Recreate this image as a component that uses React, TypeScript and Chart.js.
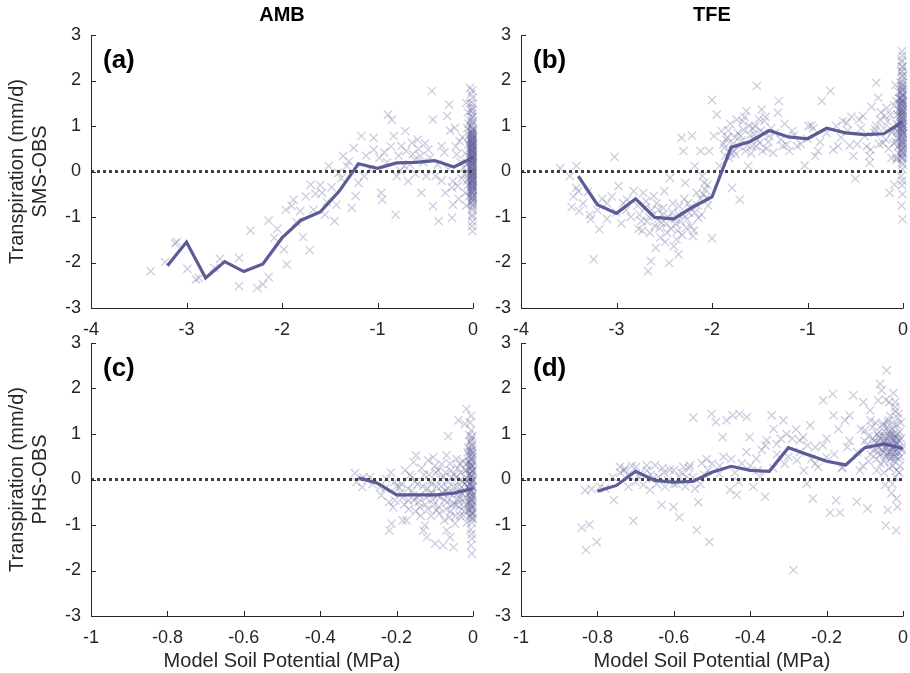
import { useEffect, useRef } from "react";
import { Chart, registerables } from "chart.js";

Chart.register(...registerables);

const FONT = '"Liberation Sans", Arial, Helvetica, sans-serif';
const INK = "#262626";
const MEAN_COLOR = "#5b5b98";
const CROSS_COLOR = "rgba(92, 92, 153, 0.3)";
const ZERO_COLOR = "#404040";

// ---- Binned means (soil potential bins, MPa) ----
const ambSmsBinX = [-3.2, -3.0, -2.8, -2.6, -2.4, -2.2, -2.0, -1.8, -1.6, -1.4, -1.2, -1.0, -0.8, -0.6, -0.4, -0.2, 0];
const ambSmsBinY = [-2.07, -1.55, -2.34, -1.98, -2.2, -2.03, -1.46, -1.07, -0.89, -0.43, 0.17, 0.07, 0.19, 0.2, 0.24, 0.1, 0.31];

const tfeSmsBinX = [-3.4, -3.2, -3.0, -2.8, -2.6, -2.4, -2.2, -2.0, -1.8, -1.6, -1.4, -1.2, -1.0, -0.8, -0.6, -0.4, -0.2, 0];
const tfeSmsBinY = [-0.1, -0.73, -0.92, -0.6, -1.01, -1.04, -0.78, -0.56, 0.53, 0.66, 0.9, 0.76, 0.72, 0.95, 0.85, 0.81, 0.83, 1.1];

const ambPhsBinX = [-0.3, -0.25, -0.2, -0.15, -0.1, -0.05, 0];
const ambPhsBinY = [0.04, -0.08, -0.34, -0.34, -0.34, -0.3, -0.2];

const tfePhsBinX = [-0.8, -0.75, -0.7, -0.65, -0.6, -0.55, -0.5, -0.45, -0.4, -0.35, -0.3, -0.25, -0.2, -0.15, -0.1, -0.05, 0];
const tfePhsBinY = [-0.26, -0.13, 0.18, -0.02, -0.06, -0.04, 0.16, 0.29, 0.2, 0.18, 0.7, 0.55, 0.4, 0.32, 0.7, 0.78, 0.68];

// ---- Daily observations: [soil potential, model - observed] ----
const ambSmsObs: number[][] = [
  [-3.375, -2.19], [-3.225, -1.99], [-3.12, -1.58], [-3.1, -1.55], [-2.99, -2.14], [-2.9, -2.37], [-2.87, -2.34],
  [-2.65, -1.92], [-2.71, -2.12], [-2.45, -1.9], [-2.45, -2.52], [-2.33, -1.3], [-2.26, -2.56], [-2.2, -2.48],
  [-2.14, -2.32], [-2.14, -1.08], [-2.08, -1.46], [-2.05, -1.26], [-1.95, -2.04], [-1.96, -0.84], [-1.98, -1.71],
  [-1.88, -0.62], [-1.85, -1.11], [-1.81, -0.87], [-1.78, -1.44], [-1.71, -1.73], [-1.7, -0.29], [-1.67, -0.84],
  [-1.65, -0.49], [-1.58, -0.47], [-1.53, -0.67], [-1.51, 0.12], [-1.45, -1.09], [-1.43, -0.73], [-1.41, -0.03],
  [-1.36, 0.34], [-1.32, 0.12], [-1.27, -0.8], [-1.25, 0.52], [-1.23, -0.54], [-1.17, 0.78], [-1.14, -0.1],
  [-1.04, 0.48], [-1.04, 0.74], [-0.96, -0.47], [-0.95, -0.62], [-0.89, 1.25], [-0.83, 0.78], [-0.85, 1.14],
  [-0.81, -0.95], [-0.8, -0.1], [-0.75, 0.56], [-0.71, 0.89], [-0.72, 0.12], [-0.68, -0.21], [-0.64, 0.63],
  [-0.61, 0.26], [-0.58, 0.7], [-0.55, 0.34], [-0.54, -0.47], [-0.49, -0.1], [-0.47, 0.48], [-0.43, 1.77],
  [-0.42, 1.14], [-0.42, -0.76], [-0.39, -0.1], [-0.36, -1.09], [-0.33, 0.56], [-0.29, -0.47], [-0.27, 1.22],
  [-0.25, 1.47], [-0.22, -1.02], [-0.21, -0.21], [-0.21, -0.73], [-0.19, 0.96], [-0.17, 0.37], [-0.16, -0.32],
  [-0.14, 0.67], [-0.1, 0.08], [-0.08, -0.47], [-0.07, 1.51],
  [-1.9, -0.75], [-1.75, -0.55], [-1.6, -0.3], [-1.55, -0.95], [-1.48, -0.35], [-1.38, -0.15], [-1.3, 0.22],
  [-1.2, -0.25], [-1.12, 0.35], [-1.08, 0.05],
  [-0.98, 0.3], [-0.93, 0.42], [-0.9, 0.2], [-0.86, 0.55], [-0.78, 0.35], [-0.76, 0.02], [-0.7, 0.45],
  [-0.66, 0.15], [-0.63, 0.38], [-0.6, -0.05], [-0.57, 0.5], [-0.52, 0.2], [-0.5, 0.62], [-0.45, 0.3],
  [-0.37, 0.15], [-0.33, -0.2], [-0.3, 0.42], [-0.26, 0.05], [-0.24, 0.9], [-0.22, -0.35], [-0.18, 0.55],
  [-0.15, -0.6], [-0.13, 0.2], [-0.12, -0.15], [-0.11, 0.75], [-0.09, -0.05], [-0.08, 0.4], [-0.07, -0.75],
  [-0.06, 0.95], [-0.05, -0.3],
  [-0.03, 1.84], [-0.01, 1.78], [-0.02, 1.7], [-0.005, 1.62], [-0.03, 1.5], [-0.01, 1.41], [-0.02, 1.33],
  [-0.005, 1.27], [-0.015, 1.18], [-0.03, 1.12], [-0.01, 1.06], [-0.02, 0.99], [-0.005, 0.93], [-0.025, 0.88],
  [-0.01, 0.84], [-0.015, 0.79], [-0.005, 0.73], [-0.03, 0.69], [-0.02, 0.64], [-0.01, 0.6], [-0.005, 0.56],
  [-0.025, 0.51], [-0.015, 0.47], [-0.005, 0.43], [-0.02, 0.39], [-0.01, 0.35], [-0.03, 0.31], [-0.005, 0.27],
  [-0.015, 0.23], [-0.02, 0.19], [-0.01, 0.15], [-0.005, 0.11], [-0.025, 0.07], [-0.015, 0.03], [-0.005, -0.01],
  [-0.02, -0.05], [-0.01, -0.09], [-0.03, -0.13], [-0.005, -0.17], [-0.015, -0.22], [-0.02, -0.27], [-0.01, -0.32],
  [-0.005, -0.37], [-0.025, -0.42], [-0.015, -0.47], [-0.005, -0.53], [-0.01, -0.6], [-0.02, -0.68], [-0.005, -0.8],
  [-0.01, -0.95], [-0.005, -1.1], [-0.01, -1.2], [-0.005, -1.31],
  [-0.008, 0.5], [-0.012, 0.2], [-0.004, -0.2], [-0.018, 0.0], [-0.006, 0.8], [-0.014, -0.4], [-0.002, 0.05],
  [-0.002, 0.62], [-0.002, -0.55], [-0.003, 0.3], [-0.007, -0.05], [-0.011, 0.45],
  [-0.004, 0.92], [-0.009, 0.87], [-0.013, 0.83], [-0.003, 0.77], [-0.007, 0.71], [-0.011, 0.67], [-0.002, 0.63],
  [-0.016, 0.58], [-0.006, 0.54], [-0.01, 0.49], [-0.003, 0.44], [-0.008, 0.41], [-0.012, 0.37], [-0.002, 0.33],
  [-0.006, 0.29], [-0.015, 0.25], [-0.004, 0.21], [-0.009, 0.17], [-0.002, 0.13], [-0.013, 0.09], [-0.005, 0.05],
  [-0.008, 0.01], [-0.003, -0.03], [-0.011, -0.07], [-0.006, -0.11], [-0.002, -0.15], [-0.009, -0.19],
  [-0.004, -0.24], [-0.012, -0.29], [-0.007, -0.34], [-0.003, -0.39], [-0.01, -0.44], [-0.005, -0.49],
  [-0.008, -0.57], [-0.003, -0.64], [-0.006, -0.72], [-0.018, 0.72], [-0.022, 0.45], [-0.024, 0.12],
  [-0.026, -0.2], [-0.028, 0.56], [-0.035, 0.25], [-0.04, -0.05], [-0.038, 0.8], [-0.045, 1.05], [-0.042, -0.55],
  [-0.05, 0.6], [-0.055, 1.3], [-0.06, -0.2], [-0.065, 0.15], [-0.003, 1.1], [-0.007, 1.35], [-0.002, 1.5],
  [-0.012, 1.0], [-0.004, -0.85], [-0.009, -1.0],
  [-0.001, 0.9], [-0.006, 0.82], [-0.001, 0.75], [-0.009, 0.68], [-0.004, 0.59], [-0.001, 0.52], [-0.007, 0.46],
  [-0.002, 0.39], [-0.01, 0.32], [-0.005, 0.24], [-0.001, 0.18], [-0.008, 0.1], [-0.003, 0.03], [-0.001, -0.06],
  [-0.006, -0.13], [-0.002, -0.21], [-0.009, -0.27], [-0.004, -0.33], [-0.001, -0.41], [-0.007, -0.47],
  [-0.002, -0.58], [-0.005, -0.66], [-0.001, 0.35], [-0.004, 0.68], [-0.001, -0.3], [-0.012, 0.6], [-0.013, -0.1],
  [-0.016, 0.3], [-0.002, 1.2], [-0.001, -0.75],
];

const tfeSmsObs: number[][] = [
  [-3.59, 0.07], [-3.49, -0.1], [-3.42, 0.12], [-3.42, -0.36], [-3.4, -0.43], [-3.47, -0.78], [-3.39, -0.87],
  [-3.28, -0.95], [-3.27, -1.05], [-3.24, -1.93], [-3.18, -1.27], [-3.1, -1.04], [-3.02, 0.32], [-2.98, -0.32],
  [-2.95, -1.14], [-2.89, -0.62], [-2.82, -0.43], [-2.77, -1.26], [-2.74, -1.09], [-2.72, -0.47], [-2.67, -2.19],
  [-2.65, -1.35], [-2.64, -1.97], [-2.61, -0.54], [-2.59, -1.68], [-2.56, -0.84], [-2.53, -1.13], [-2.5, -0.43],
  [-2.47, -1.35], [-2.45, -2.01], [-2.44, -0.14], [-2.4, -1.64], [-2.39, -1.05], [-2.37, -1.49], [-2.35, -1.82],
  [-2.34, -0.76], [-2.32, 0.74], [-2.3, 0.45], [-2.28, -0.25], [-2.27, -1.24], [-2.24, -0.91], [-2.21, 0.79],
  [-2.2, -1.42], [-2.18, 0.12], [-2.16, -0.47], [-2.14, -1.02], [-2.12, 0.45], [-2.1, -0.1], [-2.07, -0.4],
  [-2.06, -0.58], [-2.03, 0.45], [-2.0, 1.57], [-2.0, -1.47], [-1.98, 0.78], [-1.95, 1.25], [-1.92, 0.12],
  [-1.9, 0.89], [-1.87, 0.52], [-1.85, 0.7], [-1.82, 0.3], [-1.79, -0.36], [-1.77, 0.45], [-1.74, 1.14],
  [-1.71, -0.62], [-1.7, 0.78], [-1.67, 0.92], [-1.64, 1.33], [-1.62, 0.12], [-1.58, 0.56], [-1.55, 1.0],
  [-1.53, 1.88], [-1.5, 0.63], [-1.48, 1.36], [-1.45, 1.11], [-1.4, 0.78], [-1.36, 0.41], [-1.31, 1.29],
  [-1.3, 1.55], [-1.26, 0.56], [-1.22, 0.59], [-1.16, 0.89], [-1.11, 0.56], [-1.03, 0.13], [-0.99, 1.0],
  [-0.96, 1.01], [-0.92, 0.34], [-0.89, 0.45], [-0.85, 1.55], [-0.76, 1.77], [-0.73, 0.48], [-0.68, 0.56],
  [-0.63, 1.11], [-0.59, 1.07], [-0.56, 0.57], [-0.52, 0.34], [-0.5, -0.16], [-0.46, 1.14], [-0.42, 1.22],
  [-0.4, 0.78], [-0.35, 0.34], [-0.35, 0.19], [-0.34, 0.48], [-0.33, 1.42], [-0.29, 0.92], [-0.28, 1.95],
  [-0.26, 1.62], [-0.24, 1.14], [-0.21, 0.63], [-0.19, 1.22], [-0.17, 1.4], [-0.14, -0.47], [-0.12, 0.85],
  [-0.09, -0.29], [-0.07, 0.26],
  [-3.3, -0.45], [-3.1, -0.7], [-3.05, -0.55], [-2.9, -0.85], [-2.85, -1.0], [-2.7, -0.8], [-2.68, -1.1],
  [-2.55, -1.25], [-2.52, -0.95], [-2.48, -1.15], [-2.42, -0.9], [-2.36, -1.3], [-2.33, -1.1], [-2.3, -0.95],
  [-2.25, -0.7], [-2.22, -1.2], [-2.18, -0.9], [-2.12, -0.6], [-2.08, -0.25], [-2.04, -0.75],
  [-2.78, -0.75], [-2.76, -0.95], [-2.73, -1.3], [-2.69, -0.65], [-2.66, -1.0], [-2.63, -0.85], [-2.6, -1.2],
  [-2.58, -0.7], [-2.57, -1.05], [-2.54, -1.45], [-2.51, -0.8], [-2.49, -1.55], [-2.46, -1.0], [-2.43, -1.25],
  [-2.41, -0.7], [-2.38, -1.15], [-2.35, -0.95], [-2.31, -1.4], [-2.29, -0.6], [-2.26, -1.05], [-2.23, -0.8],
  [-2.19, -1.3], [-2.15, -0.75], [-2.11, -0.95], [-2.09, -0.5], [-2.05, -0.3], [-3.45, -0.55], [-3.35, -0.7],
  [-3.2, -0.85], [-3.15, -0.6], [-3.0, -0.9], [-2.93, -0.7],
  [-1.88, 0.6], [-1.83, 0.9], [-1.8, 0.4], [-1.76, 0.75], [-1.72, 0.55], [-1.68, 1.1], [-1.65, 0.45],
  [-1.6, 0.8], [-1.57, 0.95], [-1.52, 0.7], [-1.46, 0.85], [-1.43, 0.5], [-1.38, 0.95],
  [-1.86, 0.35], [-1.84, 0.75], [-1.81, 1.05], [-1.78, 0.62], [-1.75, 0.38], [-1.73, 0.85], [-1.69, 0.68],
  [-1.66, 1.2], [-1.63, 0.58], [-1.61, 1.0], [-1.59, 0.4], [-1.56, 0.82], [-1.54, 0.55], [-1.51, 1.15],
  [-1.49, 0.9], [-1.47, 0.45], [-1.44, 1.2], [-1.41, 0.65], [-1.34, 0.85], [-1.28, 0.7], [-1.24, 1.05],
  [-1.19, 0.45], [-1.14, 0.8], [-1.07, 0.6], [-1.0, 0.72], [-0.94, 0.95], [-0.87, 0.65], [-0.8, 0.85],
  [-0.7, 1.0], [-0.65, 0.75], [-0.58, 0.9], [-0.54, 1.2], [-0.48, 0.6], [-0.44, 0.95], [-0.38, 0.55],
  [-0.3, 0.85], [-0.28, 1.0], [-0.25, 0.6], [-0.23, 1.3], [-0.2, 0.95], [-0.18, 0.7], [-0.16, 1.1],
  [-0.15, 0.5], [-0.13, 1.25], [-0.12, 0.3], [-0.11, 0.9], [-0.1, 0.62], [-0.09, 1.45], [-0.08, 1.9],
  [-0.07, 1.05], [-0.06, 0.75], [-0.05, 1.35], [-0.045, 0.4], [-0.04, 1.6], [-0.035, 0.95],
  [-0.01, 2.64], [-0.005, 2.55], [-0.015, 2.4], [-0.005, 2.3], [-0.02, 2.2], [-0.01, 2.1], [-0.005, 2.02],
  [-0.025, 1.95], [-0.015, 1.88], [-0.005, 1.8], [-0.02, 1.73], [-0.01, 1.66], [-0.03, 1.6], [-0.005, 1.54],
  [-0.015, 1.48], [-0.025, 1.42], [-0.01, 1.36], [-0.005, 1.3], [-0.02, 1.24], [-0.01, 1.18], [-0.03, 1.12],
  [-0.005, 1.06], [-0.015, 1.0], [-0.02, 0.94], [-0.01, 0.88], [-0.005, 0.82], [-0.025, 0.76], [-0.015, 0.7],
  [-0.005, 0.63], [-0.01, 0.55], [-0.02, 0.47], [-0.005, 0.4], [-0.015, 0.32], [-0.01, 0.2], [-0.005, 0.05],
  [-0.02, -0.1], [-0.01, -0.3], [-0.005, -0.5], [-0.015, -0.75], [-0.005, -1.05],
  [-0.003, 1.95], [-0.008, 1.85], [-0.012, 1.76], [-0.004, 1.7], [-0.018, 1.62], [-0.006, 1.57], [-0.01, 1.5],
  [-0.002, 1.45], [-0.014, 1.39], [-0.007, 1.33], [-0.003, 1.27], [-0.011, 1.21], [-0.005, 1.15], [-0.016, 1.09],
  [-0.008, 1.03], [-0.002, 0.97], [-0.012, 0.91], [-0.006, 0.85], [-0.01, 0.79], [-0.003, 0.73], [-0.015, 0.67],
  [-0.007, 0.6], [-0.002, 0.52], [-0.012, 0.45], [-0.005, 0.36], [-0.009, 0.28], [-0.022, 1.35], [-0.025, 1.05],
  [-0.028, 0.6], [-0.032, 1.5], [-0.036, 1.2], [-0.04, 0.85], [-0.044, 1.75], [-0.048, 1.0], [-0.052, 0.55],
  [-0.056, 1.25], [-0.06, 0.9], [-0.065, 0.3], [-0.07, 1.55], [-0.075, 0.65], [-0.005, 2.2], [-0.012, 2.45],
  [-0.008, -0.2], [-0.003, 0.15],
  [-0.001, 1.9], [-0.006, 1.8], [-0.002, 1.68], [-0.009, 1.6], [-0.001, 1.52], [-0.005, 1.43], [-0.002, 1.35],
  [-0.008, 1.26], [-0.001, 1.2], [-0.004, 1.12], [-0.011, 1.04], [-0.002, 0.98], [-0.006, 0.9], [-0.001, 0.84],
  [-0.009, 0.76], [-0.003, 0.68], [-0.001, 0.6], [-0.006, 0.5], [-0.002, 0.42], [-0.004, 0.3], [-0.001, 2.1],
  [-0.007, 2.3], [-0.013, 1.55], [-0.017, 0.95], [-0.019, 1.3],
];

const ambPhsObs: number[][] = [
  [-0.309, 0.14], [-0.305, -0.06], [-0.29, -0.17], [-0.287, 0.05], [-0.277, -0.01], [-0.27, 0.05], [-0.263, -0.1],
  [-0.243, -0.17], [-0.226, 0.01], [-0.219, -1.12], [-0.213, -0.97], [-0.209, -0.61], [-0.204, -0.46],
  [-0.193, -0.17], [-0.187, -0.1], [-0.184, -0.9], [-0.174, -0.9], [-0.169, -0.46], [-0.16, 0.05], [-0.156, 0.38],
  [-0.149, 0.53], [-0.147, -0.39], [-0.139, -0.61], [-0.13, -1.12], [-0.126, -1.01], [-0.121, -1.27],
  [-0.117, 0.42], [-0.114, -0.32], [-0.108, -0.1], [-0.104, 0.49], [-0.099, -1.41], [-0.095, -0.68],
  [-0.091, 0.2], [-0.086, -0.39], [-0.082, 0.34], [-0.078, -1.45], [-0.073, -0.24], [-0.069, -1.12],
  [-0.069, 0.53], [-0.065, 0.95], [-0.062, -0.83], [-0.06, -1.27], [-0.056, 0.05], [-0.051, -1.49],
  [-0.05, -0.53], [-0.047, -0.97], [-0.043, 0.45], [-0.038, 1.3], [-0.036, -0.39], [-0.034, 0.34],
  [-0.03, -0.17], [-0.025, -0.79], [-0.021, 1.22], [-0.017, 1.55], [-0.017, 0.2],
  [-0.24, -0.35], [-0.23, -0.2], [-0.22, -0.5], [-0.215, 0.15], [-0.205, -0.05],
  [-0.19, -0.3], [-0.18, -0.55], [-0.17, -0.2], [-0.165, 0.1], [-0.155, -0.45], [-0.15, -0.7], [-0.145, -0.1],
  [-0.14, -0.35], [-0.135, 0.25], [-0.125, -0.55], [-0.12, -0.2], [-0.115, 0.1], [-0.11, -0.8], [-0.105, -0.45],
  [-0.1, 0.3], [-0.095, -0.15], [-0.09, -0.6], [-0.085, 0.0], [-0.08, -0.3], [-0.075, -0.9], [-0.072, 0.15],
  [-0.068, -0.5], [-0.065, -0.2], [-0.06, 0.35], [-0.058, -0.7], [-0.055, -0.35], [-0.05, 0.1], [-0.045, -0.55],
  [-0.042, -0.15], [-0.04, 0.25], [-0.037, -0.45], [-0.034, -0.8], [-0.032, 0.0], [-0.03, -0.3], [-0.027, 0.4],
  [-0.025, -0.6], [-0.022, -0.1], [-0.02, 0.2], [-0.018, -0.4], [-0.016, -0.95], [-0.014, 0.6],
  [-0.2, -0.15], [-0.185, -0.4], [-0.178, 0.2], [-0.168, -0.65], [-0.16, -0.25], [-0.152, -0.05], [-0.143, -0.5],
  [-0.137, -0.8], [-0.132, -0.15], [-0.128, 0.1], [-0.122, -0.4], [-0.118, -0.65], [-0.112, -0.05],
  [-0.107, -0.3], [-0.102, -0.55], [-0.097, 0.15], [-0.093, -0.35], [-0.088, -0.75], [-0.083, -0.15],
  [-0.078, 0.05], [-0.074, -0.45], [-0.07, -0.65], [-0.066, -0.05], [-0.062, -0.3], [-0.058, 0.2], [-0.054, -0.55],
  [-0.05, -0.15], [-0.046, -0.8], [-0.043, 0.05], [-0.039, -0.3], [-0.036, -0.6], [-0.033, 0.15], [-0.029, -0.45],
  [-0.026, -0.05], [-0.023, -0.7], [-0.02, -0.25], [-0.017, 0.35], [-0.015, -0.55], [-0.013, -0.15],
  [-0.005, 1.08], [-0.01, 0.98], [-0.004, 0.9], [-0.008, 0.82], [-0.003, 0.76], [-0.012, 0.7], [-0.006, 0.64],
  [-0.002, 0.58], [-0.009, 0.52], [-0.004, 0.46], [-0.011, 0.4], [-0.006, 0.34], [-0.002, 0.28], [-0.008, 0.22],
  [-0.004, 0.16], [-0.01, 0.1], [-0.006, 0.04], [-0.002, -0.02], [-0.009, -0.08], [-0.004, -0.14], [-0.011, -0.2],
  [-0.006, -0.26], [-0.002, -0.32], [-0.008, -0.38], [-0.004, -0.44], [-0.01, -0.5], [-0.006, -0.56],
  [-0.002, -0.62], [-0.009, -0.68], [-0.004, -0.75], [-0.007, -0.82], [-0.003, -0.95], [-0.006, -1.1],
  [-0.003, -1.3], [-0.005, -1.45], [-0.003, -1.63],
  [-0.003, 0.72], [-0.007, 0.61], [-0.002, 0.5], [-0.005, 0.43], [-0.009, 0.37], [-0.003, 0.31], [-0.006, 0.25],
  [-0.002, 0.19], [-0.008, 0.13], [-0.004, 0.07], [-0.011, 0.01], [-0.003, -0.05], [-0.007, -0.11],
  [-0.002, -0.17], [-0.005, -0.23], [-0.009, -0.29], [-0.003, -0.35], [-0.006, -0.41], [-0.002, -0.47],
  [-0.008, -0.53], [-0.004, -0.59], [-0.01, -0.65], [-0.003, -0.71], [-0.006, -0.78], [-0.002, -0.88],
  [-0.004, -1.2], [-0.008, 1.25], [-0.005, 1.4],
  [-0.001, 0.65], [-0.004, 0.55], [-0.001, 0.4], [-0.006, 0.3], [-0.001, 0.2], [-0.003, 0.1], [-0.001, 0.0],
  [-0.005, -0.08], [-0.001, -0.16], [-0.003, -0.26], [-0.001, -0.38], [-0.006, -0.46], [-0.001, -0.55],
  [-0.003, -0.65], [-0.001, -0.75], [-0.005, 0.85], [-0.001, -0.85], [-0.002, 0.95],
];

const tfePhsObs: number[][] = [
  [-0.841, -1.06], [-0.83, -1.55], [-0.821, -0.99], [-0.802, -1.37], [-0.832, -0.24], [-0.815, -0.21],
  [-0.793, -0.16], [-0.757, -0.45], [-0.741, 0.28], [-0.728, 0.24], [-0.719, -0.16], [-0.706, -0.91],
  [-0.699, 0.28], [-0.688, 0.13], [-0.68, -0.12], [-0.671, 0.31], [-0.662, -0.23], [-0.649, 0.31], [-0.64, 0.06],
  [-0.632, -0.56], [-0.623, -0.16], [-0.61, 0.21], [-0.601, -0.6], [-0.593, -0.09], [-0.586, -0.83],
  [-0.575, 0.28], [-0.566, 0.06], [-0.558, 0.31], [-0.549, 1.36], [-0.545, -0.2], [-0.54, -1.11], [-0.536, -0.5],
  [-0.527, 0.36], [-0.514, 0.45], [-0.507, -1.37], [-0.501, 1.44], [-0.49, 1.26], [-0.481, 0.13], [-0.472, 0.93],
  [-0.462, 1.3], [-0.453, -0.23], [-0.446, 1.41], [-0.435, -0.34], [-0.428, 1.44], [-0.422, 0.35], [-0.409, 1.37],
  [-0.402, 0.93], [-0.392, -0.16], [-0.384, 0.46], [-0.374, 0.06], [-0.361, -0.38], [-0.357, 0.86], [-0.344, 1.41],
  [-0.339, 1.11], [-0.331, 0.78], [-0.313, 1.3], [-0.305, 1.0], [-0.287, -1.99], [-0.278, 0.42], [-0.27, 0.86],
  [-0.261, 0.93], [-0.252, -0.09], [-0.243, 1.19], [-0.236, -0.42], [-0.23, 0.71], [-0.222, 0.27], [-0.209, 1.74],
  [-0.2, 0.49], [-0.191, -0.73], [-0.184, 1.88], [-0.182, 1.41], [-0.175, -0.46], [-0.169, 1.11], [-0.165, -0.73],
  [-0.158, 0.27], [-0.152, 1.3], [-0.146, 0.71], [-0.14, 1.41], [-0.13, 1.85], [-0.121, -0.49], [-0.113, 0.2],
  [-0.104, 1.7], [-0.099, 1.08], [-0.093, -0.64], [-0.086, 1.52], [-0.078, 0.64], [-0.069, 0.2], [-0.065, 1.74],
  [-0.06, 2.1], [-0.056, 1.96], [-0.051, 1.22], [-0.047, -0.12], [-0.045, -1.01], [-0.043, 2.4], [-0.04, -0.67],
  [-0.036, 1.7], [-0.034, 1.0], [-0.03, 0.49], [-0.021, 1.59], [-0.018, -1.12], [-0.017, -0.42], [-0.012, 1.44],
  [-0.78, -0.2], [-0.76, 0.05], [-0.73, 0.2], [-0.72, 0.1], [-0.7, -0.05], [-0.67, 0.2], [-0.655, 0.02],
  [-0.645, -0.1], [-0.625, 0.15], [-0.615, -0.02], [-0.6, 0.2], [-0.585, 0.05], [-0.57, -0.15], [-0.56, 0.25],
  [-0.74, 0.15], [-0.71, 0.3], [-0.69, 0.05], [-0.66, 0.1], [-0.63, 0.25], [-0.6, -0.1], [-0.58, 0.15],
  [-0.55, 0.05], [-0.53, -0.1], [-0.51, 0.2], [-0.48, 0.3], [-0.45, 0.45], [-0.43, -0.05], [-0.4, 0.3],
  [-0.37, 0.65], [-0.34, 0.25], [-0.32, 0.9], [-0.3, 0.5], [-0.28, 1.1], [-0.25, 0.75], [-0.23, 0.35],
  [-0.2, 0.9], [-0.18, 0.55], [-0.16, 0.25], [-0.14, 0.85],
  [-0.52, 0.1], [-0.5, 0.35], [-0.47, 0.5], [-0.44, 0.15], [-0.41, 0.6], [-0.38, 0.2], [-0.36, 0.75],
  [-0.33, 0.55], [-0.31, 0.35], [-0.29, 0.9], [-0.27, 0.6], [-0.26, 0.2], [-0.24, 0.45], [-0.21, 0.75],
  [-0.095, 0.75], [-0.09, 0.95], [-0.085, 0.55], [-0.08, 1.15], [-0.075, 0.85], [-0.07, 0.45], [-0.068, 1.0],
  [-0.065, 0.7], [-0.06, 0.9], [-0.058, 0.35], [-0.055, 1.2], [-0.052, 0.8], [-0.05, 0.6], [-0.048, 1.05],
  [-0.045, 0.5], [-0.043, 0.85], [-0.04, 0.7], [-0.038, 1.3], [-0.035, 0.95], [-0.033, 0.55], [-0.03, 0.8],
  [-0.028, 1.1], [-0.026, 0.65], [-0.024, 0.4], [-0.022, 0.9], [-0.02, 1.5], [-0.018, 0.75], [-0.016, 0.2],
  [-0.014, 1.0], [-0.012, 0.6], [-0.01, 0.85], [-0.008, 0.3], [-0.006, 1.25], [-0.004, 0.7], [-0.02, 0.05],
  [-0.03, -0.3], [-0.015, -0.6], [-0.045, 1.75], [-0.025, 1.9], [-0.05, 0.15],
  [-0.078, 0.9], [-0.072, 1.25], [-0.066, 0.6], [-0.062, 1.05], [-0.057, 0.75], [-0.053, 0.95], [-0.049, 0.4],
  [-0.046, 0.7], [-0.042, 1.15], [-0.039, 0.6], [-0.037, 0.85], [-0.034, 0.45], [-0.031, 1.0], [-0.029, 0.7],
  [-0.027, 0.3], [-0.025, 0.85], [-0.023, 1.2], [-0.021, 0.6], [-0.019, 0.95], [-0.017, 0.5], [-0.015, 0.8],
  [-0.013, 1.35], [-0.011, 0.7], [-0.009, 1.05], [-0.007, 0.5], [-0.005, 0.9], [-0.003, 0.65], [-0.02, 1.7],
  [-0.016, 1.2], [-0.01, 0.15], [-0.028, -0.1], [-0.035, 0.25], [-0.06, 0.55], [-0.07, 0.8], [-0.085, 1.3],
  [-0.09, 0.4], [-0.1, 0.85], [-0.11, 1.1], [-0.12, 0.6], [-0.105, 0.3],
  [-0.045, 0.95], [-0.041, 0.55], [-0.038, 0.78], [-0.036, 1.05], [-0.032, 0.62], [-0.03, 0.9], [-0.027, 0.72],
  [-0.024, 1.0], [-0.022, 0.5], [-0.019, 0.82], [-0.017, 0.65], [-0.014, 0.9], [-0.012, 0.45], [-0.05, 0.85],
  [-0.055, 0.65], [-0.063, 0.95], [-0.058, 0.8], [-0.04, 1.25], [-0.033, 1.4],
];

// ---- Axis settings ----
const yTicksMin = -3;
const yTicksMax = 3;
const smsXRange = [-4, 0];
const phsXRange = [-1, 0];
const smsXStep = 1;
const phsXStep = 0.2;

type Panel = {
  letter: string;
  heading?: string;
  yTitle?: string[];
  xTitle?: string;
  binX: number[];
  binY: number[];
  obs: number[][];
  xRange: number[];
  xStep: number;
  // canvas placement and plot area inside it
  box: { left: number; top: number; width: number; height: number };
  area: { left: number; top: number; right: number; bottom: number };
};

const panels: Panel[] = [
  {
    letter: "(a)", heading: "AMB", yTitle: ["Transpiration (mm/d)", "SMS-OBS"],
    binX: ambSmsBinX, binY: ambSmsBinY, obs: ambSmsObs, xRange: smsXRange, xStep: smsXStep,
    box: { left: 0, top: 0, width: 480, height: 345 },
    area: { left: 91, top: 35, right: 473, bottom: 308 },
  },
  {
    letter: "(b)", heading: "TFE",
    binX: tfeSmsBinX, binY: tfeSmsBinY, obs: tfeSmsObs, xRange: smsXRange, xStep: smsXStep,
    box: { left: 460, top: 0, width: 450, height: 345 },
    area: { left: 61, top: 35, right: 443, bottom: 308 },
  },
  {
    letter: "(c)", yTitle: ["Transpiration (mm/d)", "PHS-OBS"], xTitle: "Model Soil Potential (MPa)",
    binX: ambPhsBinX, binY: ambPhsBinY, obs: ambPhsObs, xRange: phsXRange, xStep: phsXStep,
    box: { left: 0, top: 325, width: 480, height: 348 },
    area: { left: 91, top: 18, right: 473, bottom: 291 },
  },
  {
    letter: "(d)", xTitle: "Model Soil Potential (MPa)",
    binX: tfePhsBinX, binY: tfePhsBinY, obs: tfePhsObs, xRange: phsXRange, xStep: phsXStep,
    box: { left: 460, top: 325, width: 450, height: 348 },
    area: { left: 61, top: 18, right: 443, bottom: 291 },
  },
];

function decorPlugin(p: Panel) {
  return {
    id: "panelDecor",
    afterDraw(chart: any) {
      const { ctx, chartArea: a, scales } = chart;
      const xs = scales.x;
      const ys = scales.y;
      ctx.save();
      ctx.strokeStyle = INK;
      ctx.lineWidth = 1;
      ctx.beginPath();
      ctx.moveTo(a.left + 0.5, a.top);
      ctx.lineTo(a.left + 0.5, a.bottom + 0.5);
      ctx.lineTo(a.right + 0.5, a.bottom + 0.5);
      for (const t of xs.ticks) {
        const px = Math.round(xs.getPixelForValue(t.value)) + 0.5;
        ctx.moveTo(px, a.bottom);
        ctx.lineTo(px, a.bottom - 5);
      }
      for (const t of ys.ticks) {
        const py = Math.round(ys.getPixelForValue(t.value)) + 0.5;
        ctx.moveTo(a.left, py);
        ctx.lineTo(a.left + 5, py);
      }
      ctx.stroke();

      ctx.fillStyle = "#000";
      ctx.textBaseline = "middle";
      ctx.textAlign = "left";
      ctx.font = `bold 26px ${FONT}`;
      ctx.fillText(p.letter, a.left + 12, a.top + 26);
      if (p.heading) {
        ctx.textAlign = "center";
        ctx.font = `bold 20px ${FONT}`;
        ctx.fillText(p.heading, (a.left + a.right) / 2, a.top - 20);
      }
      ctx.restore();
    },
  };
}

function buildConfig(p: Panel): any {
  const { box, area } = p;
  return {
    type: "scatter",
    data: {
      datasets: [
        {
          data: p.binX.map((x, i) => ({ x, y: p.binY[i] })),
          showLine: true,
          borderColor: MEAN_COLOR,
          borderWidth: 3.2,
          pointRadius: 0,
          order: 0,
        },
        {
          data: [{ x: p.xRange[0], y: 0 }, { x: p.xRange[1], y: 0 }],
          showLine: true,
          borderColor: ZERO_COLOR,
          borderWidth: 3,
          borderDash: [3, 3],
          pointRadius: 0,
          order: 1,
        },
        {
          data: p.obs.map(([x, y]) => ({ x, y })),
          pointStyle: "crossRot",
          pointRadius: 5.8,
          pointBorderWidth: 1.35,
          borderColor: CROSS_COLOR,
          backgroundColor: CROSS_COLOR,
          clip: false,
          order: 2,
        },
      ],
    },
    options: {
      responsive: false,
      animation: false,
      events: [],
      layout: {
        autoPadding: false,
        padding: { left: 0, top: area.top, right: box.width - area.right, bottom: 0 },
      },
      plugins: { legend: { display: false }, tooltip: { enabled: false }, title: { display: false } },
      scales: {
        x: {
          type: "linear",
          min: p.xRange[0],
          max: p.xRange[1],
          grid: { display: false, drawTicks: false },
          border: { display: false },
          ticks: {
            stepSize: p.xStep,
            autoSkip: false,
            maxRotation: 0,
            padding: 11,
            color: INK,
            font: { family: FONT, size: 18 },
            callback: (v: number) => String(Math.round(v * 10) / 10),
          },
          title: p.xTitle
            ? { display: true, text: p.xTitle, color: INK, font: { family: FONT, size: 20, lineHeight: 1.15 }, padding: 0 }
            : { display: false },
          afterFit: (s: any) => {
            s.height = box.height - area.bottom;
            s.paddingLeft = 0;
            s.paddingRight = 0;
          },
        },
        y: {
          type: "linear",
          min: yTicksMin,
          max: yTicksMax,
          grid: { display: false, drawTicks: false },
          border: { display: false },
          ticks: {
            stepSize: 1,
            padding: 10,
            color: INK,
            font: { family: FONT, size: 18 },
          },
          title: p.yTitle
            ? { display: true, text: p.yTitle, color: INK, font: { family: FONT, size: 20, lineHeight: 1.15 }, padding: { top: 6, bottom: 0 } }
            : { display: false },
          afterFit: (s: any) => {
            s.width = area.left;
            s.paddingTop = 0;
            s.paddingBottom = 0;
          },
        },
      },
    },
    plugins: [decorPlugin(p)],
  };
}

function PanelChart({ panel }: { panel: Panel }) {
  const ref = useRef<HTMLCanvasElement | null>(null);
  useEffect(() => {
    if (!ref.current) return;
    const chart = new Chart(ref.current, buildConfig(panel));
    return () => chart.destroy();
  }, [panel]);
  const { box } = panel;
  return (
    <canvas
      ref={ref}
      width={box.width}
      height={box.height}
      style={{ position: "absolute", left: box.left, top: box.top, width: box.width, height: box.height }}
    />
  );
}

export default function App() {
  return (
    <div style={{ position: "fixed", left: 0, top: 0, width: 910, height: 673, background: "#fff", overflow: "hidden" }}>
      {panels.map((p) => (
        <PanelChart key={p.letter} panel={p} />
      ))}
    </div>
  );
}
